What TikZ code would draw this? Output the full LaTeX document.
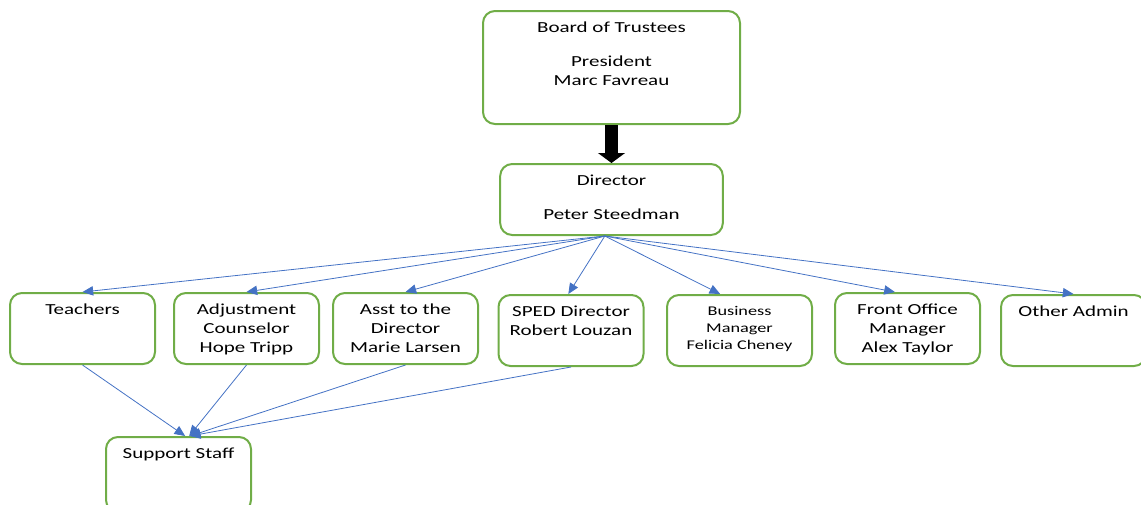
\documentclass[tikz,border=0pt]{standalone}
\usepackage{fontspec}
\setmainfont{Carlito}[FakeStretch=1.37]
\usepackage{tikz}
\usetikzlibrary{arrows.meta}
\usetikzlibrary{positioning}
\definecolor{boxgreen}{HTML}{70AD47}
\definecolor{linkblue}{HTML}{4472C4}
% text block of a box: width, height, lines
\newcommand{\orgtext}[3][100.75pt]{\parbox[t][\dimexpr#2-1.5pt][t]{#1}{\vspace*{1.5pt}\centering #3}}

\begin{document}
\begin{tikzpicture}[x=0.75pt, y=-0.75pt, font=\fontsize{11.5}{14.25}\selectfont]
		\tikzstyle{orgbox}=[draw=boxgreen, line width=1.5pt, rounded corners=9pt, inner xsep=4pt, inner ysep=7pt, anchor=north]
		\tikzstyle{link}=[linkblue, line width=0.6pt, -{Triangle[length=8pt, width=7pt]}]
		\tikzstyle{handover}=[black, line width=9.75pt, -{Triangle[length=7.5pt, width=20pt]}]
		\useasboundingbox (0,0) rectangle (1141,504);
		\clip (0,0) rectangle (1141,504);
		\node[orgbox] (board) at (611.5,10) {\orgtext[184.75pt]{72.25pt}{Board of Trustees\\[11pt] President\\ Marc Favreau}};
		\node[orgbox] (director) at (611.5,163) {\orgtext[159pt]{40.75pt}{Director\\[11pt] Peter Steedman}};
		\node[orgbox] (teachers) at (82.5,292) {\orgtext{40.75pt}{Teachers}};
		\node[orgbox] (adjust) at (246.5,292) {\orgtext{40.75pt}{Adjustment\\ Counselor\\ Hope Tripp}};
		\node[orgbox] (asst) at (405.5,292) {\orgtext{40.75pt}{Asst to the\\ Director\\ Marie Larsen}};
		\node[orgbox] (sped) at (571,294) {\orgtext{40.75pt}{SPED Director\\ Robert Louzan}};
		\node[orgbox] (business) at (739.5,294) {\orgtext{40.75pt}{\fontsize{10}{12.75}\selectfont Business\\ Manager\\ Felicia Cheney}};
		\node[orgbox] (front) at (907.5,292) {\orgtext{40.75pt}{Front Office\\ Manager\\ Alex Taylor}};
		\node[orgbox] (other) at (1073.5,294) {\orgtext{40.75pt}{Other Admin}};
		\node[orgbox] (support) at (178.5,436) {\orgtext{43.75pt}{Support Staff}};
		\coordinate (hub) at ([xshift=-5pt]director.south);
		\draw[handover] (board.south) -- (director.north);
		\draw[link] (hub) -- (teachers.north);
		\draw[link] (hub) -- (adjust.north);
		\draw[link] (hub) -- (asst.north);
		\draw[link] (hub) -- ([xshift=-2pt]sped.north);
		\draw[link] (hub) -- ([xshift=-14.5pt]business.north);
		\draw[link] (hub) -- ([xshift=-9.5pt]front.north);
		\draw[link] (hub) -- (other.north);
		\draw[link] (teachers.south) -- ([xshift=5pt]support.north);
		\draw[link] (adjust.south) -- ([xshift=8pt]support.north);
		\draw[link] (asst.south) -- ([xshift=8.5pt]support.north);
		\draw[link] (sped.south) -- ([xshift=8.5pt]support.north);
	\end{tikzpicture}
\end{document}
